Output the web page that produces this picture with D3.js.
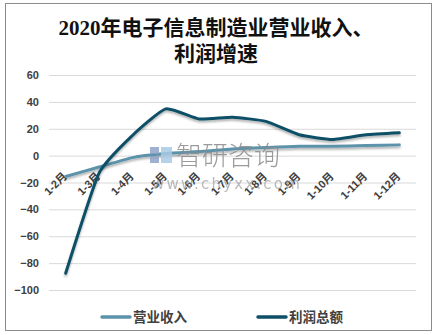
<!DOCTYPE html>
<html><head><meta charset="utf-8">
<script src="https://cdn.jsdelivr.net/npm/d3@7/dist/d3.min.js"></script>
<style>
html,body{margin:0;padding:0;background:#fff;}
svg{display:block;}
</style>
</head><body>
<svg id="c" width="436" height="335"></svg>
<script>
const categories = ["1-2月","1-3月","1-4月","1-5月","1-6月","1-7月","1-8月","1-9月","1-10月","1-11月","1-12月"];
const revenue = [-15.5, -8.5, -1.5, 1.5, 3, 5, 6, 7, 7, 7.5, 8];
const profit  = [-87.5, -13, 15, 34.8, 27.3, 28.5, 25.5, 15.5, 12, 15.5, 17];
const yTicks = [60, 40, 20, 0, -20, -40, -60, -80, -100];
const seriesNames = ["营业收入", "利润总额"];
const titleLines = ["2020年电子信息制造业营业收入、", "利润增速"];

const colors = ["#5b93ab", "#0c4f66"];
const svg = d3.select("#c");
const cjk = "'Liberation Sans', 'Noto Sans CJK SC', sans-serif";

// border
svg.append("rect").attr("x",5.5).attr("y",3.5).attr("width",426).attr("height",327)
  .attr("fill","#fff").attr("stroke","#8c8c8c").attr("stroke-width",1);

// shadow filter
const defs = svg.append("defs");
const f = defs.append("filter").attr("id","sh").attr("x","-10%").attr("y","-10%").attr("width","120%").attr("height","130%");
f.append("feDropShadow").attr("dx",0).attr("dy",2).attr("stdDeviation",1.2).attr("flood-color","#000").attr("flood-opacity",0.3);

// title
svg.append("g").selectAll("text").data(titleLines).join("text")
  .attr("x", 216).attr("y", (d,i)=> 35 + i*26)
  .attr("text-anchor","middle")
  .attr("font-family","'Liberation Serif', 'Noto Sans CJK SC', serif")
  .attr("font-size",21).attr("font-weight","bold").attr("fill","#111")
  .text(d=>d);

const x = d3.scalePoint().domain(categories).range([49, 416]).padding(0.5);
const y = d3.scaleLinear().domain([-100, 60]).range([290, 75]);

// grid + y labels
const yAxis = d3.axisLeft(y).tickValues(yTicks).tickSize(-367).tickPadding(10).tickFormat(d3.format("d"));
const gy = svg.append("g").attr("transform","translate(49,0)").call(yAxis);
gy.select(".domain").remove();
gy.selectAll(".tick line").attr("stroke","#d9d9d9").attr("stroke-width",1);
gy.selectAll(".tick text").attr("font-family",cjk).attr("font-size",11).attr("font-weight","bold").attr("fill","#404040");

// x labels
svg.append("g").selectAll("text").data(categories).join("text")
  .attr("transform", d=>`translate(${x(d)+2},177) rotate(-45)`)
  .attr("text-anchor","end")
  .attr("font-family",cjk).attr("font-size",11).attr("font-weight","bold").attr("fill","#404040")
  .text(d=>d);

// lines
const line = d3.line().x((d,i)=>x(categories[i])).y(d=>y(d)).curve(d3.curveCardinal.tension(0.5));
[revenue, profit].forEach((s,k)=>{
  svg.append("path").datum(s).attr("d",line).attr("fill","none")
    .attr("stroke",colors[k]).attr("stroke-width",3).attr("stroke-linecap","round")
    .attr("filter","url(#sh)");
});

// watermark
const wm = svg.append("g").attr("opacity",0.85);
wm.append("rect").attr("x",150).attr("y",147).attr("width",9).attr("height",7).attr("fill","#8fa3c8");
wm.append("rect").attr("x",150).attr("y",156).attr("width",9).attr("height",7).attr("fill","#8fa3c8");
wm.append("rect").attr("x",161).attr("y",147).attr("width",11).attr("height",16).attr("fill","#a9cbe6");
wm.append("text").attr("x",176).attr("y",165).attr("font-family","'Noto Sans CJK SC', sans-serif")
  .attr("font-size",26).attr("font-weight",300).attr("fill","#8a8a8a").text("智研咨询");
wm.append("text").attr("x",152).attr("y",189).attr("font-family","'DejaVu Sans', sans-serif")
  .attr("font-size",15).attr("letter-spacing",2.2).attr("fill","#9a9a9a").attr("opacity",0.8).text("www.chyxx.com");

// legend
const lg = svg.append("g");
const lx = [102, 258];
seriesNames.forEach((n,k)=>{
  lg.append("line").attr("x1",lx[k]).attr("x2",lx[k]+28).attr("y1",317).attr("y2",317)
    .attr("stroke",colors[k]).attr("stroke-width",3.5).attr("stroke-linecap","round");
  lg.append("text").attr("x",lx[k]+31).attr("y",322).attr("font-family",cjk)
    .attr("font-size",13.5).attr("font-weight","bold").attr("fill","#404040").text(n);
});
</script>
</body></html>
